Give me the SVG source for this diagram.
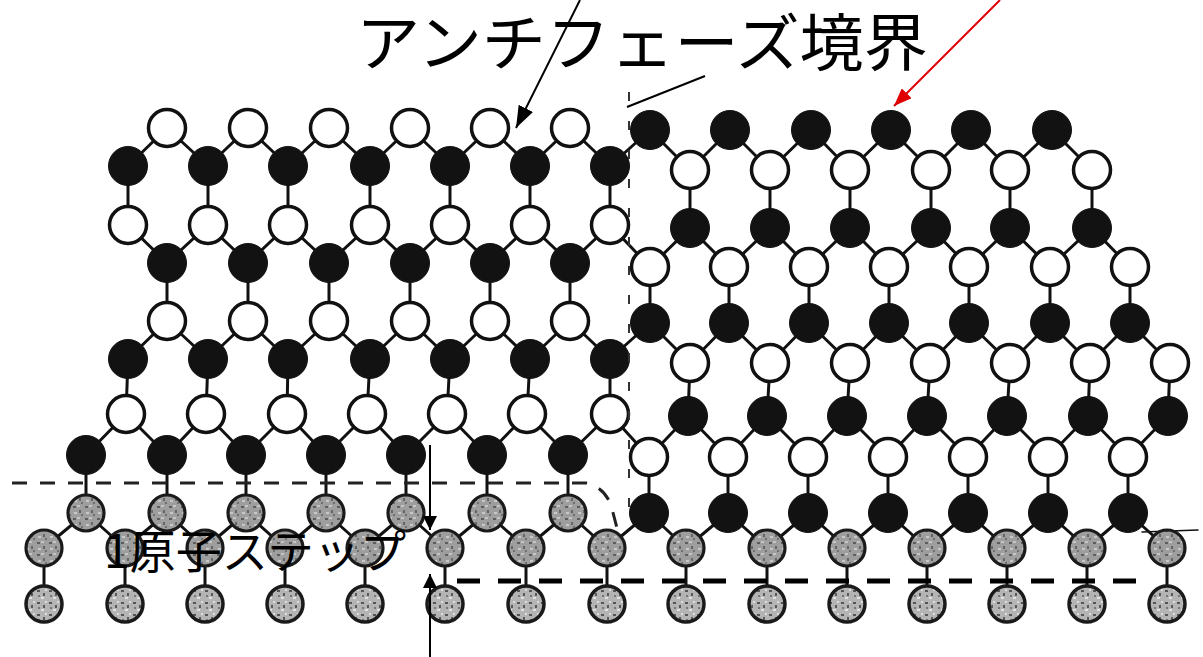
<svg xmlns="http://www.w3.org/2000/svg" width="1203" height="657" viewBox="0 0 1203 657">
  <style>
    .bond { stroke: #111; stroke-width: 3; fill: none; stroke-linecap: round; }
    .o { fill: #fff; stroke: #111; stroke-width: 3.5; }
    .f { fill: #121212; stroke: #121212; stroke-width: 1; }
    .g { fill: url(#grainA); stroke: #1a1a1a; stroke-width: 3.2; }
    .k { fill: url(#grainB); stroke: #1a1a1a; stroke-width: 3.5; }
    .lbl { font-family: "Noto Sans CJK JP", "Noto Sans", sans-serif; fill: #000; }
    .lead { stroke: #000; stroke-width: 2; fill: none; }
  </style>
  <defs>
    <pattern id="grainA" width="12" height="12" patternUnits="userSpaceOnUse">
      <rect width="12" height="12" fill="#9e9e9e"/>
      <rect x="1" y="2" width="3" height="2" fill="#5e5e5e"/>
      <rect x="7" y="6" width="2" height="3" fill="#666"/>
      <rect x="5" y="1" width="3" height="2" fill="#c4c4c4"/>
      <rect x="2" y="8" width="3" height="2" fill="#c8c8c8"/>
      <rect x="9" y="10" width="2" height="2" fill="#707070"/>
    </pattern>
    <pattern id="grainB" width="12" height="12" patternUnits="userSpaceOnUse">
      <rect width="12" height="12" fill="#b4b4b4"/>
      <rect x="1" y="2" width="3" height="2" fill="#555"/>
      <rect x="7" y="5" width="2" height="3" fill="#5a5a5a"/>
      <rect x="5" y="9" width="3" height="2" fill="#e0e0e0"/>
      <rect x="9" y="1" width="2" height="2" fill="#dcdcdc"/>
      <rect x="2" y="7" width="2" height="2" fill="#777"/>
    </pattern>
    <marker id="headBig" markerUnits="userSpaceOnUse" markerWidth="22" markerHeight="16" refX="22" refY="8" orient="auto">
      <path d="M0,0 L22,8 L0,16 z" fill="#000"/>
    </marker>
    <marker id="headSmall" markerUnits="userSpaceOnUse" markerWidth="14" markerHeight="14" refX="14" refY="7" orient="auto">
      <path d="M0,0 L14,7 L0,14 z" fill="#000"/>
    </marker>
    <marker id="headRed" markerUnits="userSpaceOnUse" markerWidth="18" markerHeight="14" refX="18" refY="7" orient="auto">
      <path d="M0,0 L18,7 L0,14 z" fill="#e00000"/>
    </marker>
  </defs>

  <rect width="1203" height="657" fill="#fff"/>

  <!-- bonds between neighbouring atoms -->
  <g id="bonds" class="bond">
    <!-- left domain -->
    <path d="M167,128 L128,166 M167,128 L208,166 M248,128 L208,166 M248,128 L288,166 M329,128 L288,166 M329,128 L370,166 M410,128 L370,166 M410,128 L450,166 M490,128 L450,166 M490,128 L530,166 M570,128 L530,166 M570,128 L610,166 M610,166 L650,130"/>
    <path d="M128,166 V225 M208,166 V225 M288,166 V225 M370,166 V225 M450,166 V225 M530,166 V225 M610,166 V225"/>
    <path d="M128,225 L167,263 M208,225 L167,263 M208,225 L248,263 M288,225 L248,263 M288,225 L329,263 M370,225 L329,263 M370,225 L410,263 M450,225 L410,263 M450,225 L490,263 M530,225 L490,263 M530,225 L570,263 M610,225 L570,263 M610,225 L650,267"/>
    <path d="M167,263 V321 M248,263 V321 M329,263 V321 M410,263 V321 M490,263 V321 M570,263 V321"/>
    <path d="M167,321 L128,359 M167,321 L208,359 M248,321 L208,359 M248,321 L288,359 M329,321 L288,359 M329,321 L370,359 M410,321 L370,359 M410,321 L450,359 M490,321 L450,359 M490,321 L530,359 M570,321 L530,359 M570,321 L610,359 M610,359 L650,323"/>
    <path d="M128,359 L126,414 M208,359 L206,414 M288,359 L287,414 M370,359 L367,414 M450,359 L447,414 M530,359 L527,414 M610,359 L610,414"/>
    <path d="M126,414 L86,455 M126,414 L167,455 M206,414 L167,455 M206,414 L246,455 M287,414 L246,455 M287,414 L326,455 M367,414 L326,455 M367,414 L406,455 M447,414 L406,455 M447,414 L487,455 M527,414 L487,455 M527,414 L568,455 M610,414 L568,455 M610,414 L649,457"/>
    <path d="M86,455 V513 M167,455 V513 M246,455 V513 M326,455 V513 M406,455 V513 M487,455 V513 M568,455 V513"/>
    <path d="M86,513 L44,548 M86,513 L125,548 M167,513 L125,548 M167,513 L205,548 M246,513 L205,548 M246,513 L285,548 M326,513 L285,548 M326,513 L365,548 M406,513 L365,548 M406,513 L445,548 M487,513 L445,548 M487,513 L526,548 M568,513 L526,548 M568,513 L607,548"/>
    <!-- right domain -->
    <path d="M650,130 L690,170 M730,130 L690,170 M730,130 L770,170 M811,130 L770,170 M811,130 L850,170 M891,130 L850,170 M891,130 L931,170 M971,130 L931,170 M971,130 L1010,170 M1052,130 L1010,170 M1052,130 L1092,170"/>
    <path d="M690,170 V228 M770,170 V228 M850,170 V228 M931,170 V228 M1010,170 V228 M1092,170 V228"/>
    <path d="M690,228 L650,267 M690,228 L729,267 M770,228 L729,267 M770,228 L809,267 M850,228 L809,267 M850,228 L889,267 M931,228 L889,267 M931,228 L969,267 M1010,228 L969,267 M1010,228 L1050,267 M1092,228 L1050,267 M1092,228 L1130,267"/>
    <path d="M650,267 V323 M729,267 V323 M809,267 V323 M889,267 V323 M969,267 V323 M1050,267 V323 M1130,267 V323"/>
    <path d="M650,323 L690,363 M729,323 L690,363 M729,323 L770,363 M809,323 L770,363 M809,323 L850,363 M889,323 L850,363 M889,323 L930,363 M969,323 L930,363 M969,323 L1010,363 M1050,323 L1010,363 M1050,323 L1090,363 M1130,323 L1090,363 M1130,323 L1170,363"/>
    <path d="M690,363 L688,416 M770,363 L767,416 M850,363 L847,416 M930,363 L927,416 M1010,363 L1007,416 M1090,363 L1088,416 M1170,363 L1168,416"/>
    <path d="M688,416 L649,457 M688,416 L728,457 M767,416 L728,457 M767,416 L808,457 M847,416 L808,457 M847,416 L888,457 M927,416 L888,457 M927,416 L968,457 M1007,416 L968,457 M1007,416 L1048,457 M1088,416 L1048,457 M1088,416 L1128,457 M1168,416 L1128,457"/>
    <path d="M649,457 V513 M728,457 V513 M808,457 V513 M888,457 V513 M968,457 V513 M1048,457 V513 M1128,457 V513"/>
    <path d="M649,513 L607,548 M649,513 L686,548 M728,513 L686,548 M728,513 L767,548 M808,513 L767,548 M808,513 L847,548 M888,513 L847,548 M888,513 L927,548 M968,513 L927,548 M968,513 L1007,548 M1048,513 L1007,548 M1048,513 L1087,548 M1128,513 L1087,548 M1128,513 L1167,548"/>
    <!-- substrate -->
    <path d="M44,548 V604 M125,548 V604 M205,548 V604 M285,548 V604 M365,548 V604 M445,548 V604 M526,548 V604 M607,548 V604 M686,548 V604 M767,548 V604 M847,548 V604 M927,548 V604 M1007,548 V604 M1087,548 V604 M1167,548 V604"/>
    <path d="M1142,532 L1198,530" stroke-width="1.5"/>
  </g>

  <!-- left domain atoms -->
  <g id="row-a">
    <circle class="o" cx="167" cy="128" r="18.5"/><circle class="o" cx="248" cy="128" r="18.5"/><circle class="o" cx="329" cy="128" r="18.5"/><circle class="o" cx="410" cy="128" r="18.5"/><circle class="o" cx="490" cy="128" r="18.5"/><circle class="o" cx="570" cy="128" r="18.5"/>
  </g>
  <g id="row-b">
    <circle class="f" cx="128" cy="166" r="19.5"/><circle class="f" cx="208" cy="166" r="19.5"/><circle class="f" cx="288" cy="166" r="19.5"/><circle class="f" cx="370" cy="166" r="19.5"/><circle class="f" cx="450" cy="166" r="19.5"/><circle class="f" cx="530" cy="166" r="19.5"/><circle class="f" cx="610" cy="166" r="19.5"/>
  </g>
  <g id="row-c">
    <circle class="o" cx="128" cy="225" r="18.5"/><circle class="o" cx="208" cy="225" r="18.5"/><circle class="o" cx="288" cy="225" r="18.5"/><circle class="o" cx="370" cy="225" r="18.5"/><circle class="o" cx="450" cy="225" r="18.5"/><circle class="o" cx="530" cy="225" r="18.5"/><circle class="o" cx="610" cy="225" r="18.5"/>
  </g>
  <g id="row-d">
    <circle class="f" cx="167" cy="263" r="19.5"/><circle class="f" cx="248" cy="263" r="19.5"/><circle class="f" cx="329" cy="263" r="19.5"/><circle class="f" cx="410" cy="263" r="19.5"/><circle class="f" cx="490" cy="263" r="19.5"/><circle class="f" cx="570" cy="263" r="19.5"/>
  </g>
  <g id="row-e">
    <circle class="o" cx="167" cy="321" r="18.5"/><circle class="o" cx="248" cy="321" r="18.5"/><circle class="o" cx="329" cy="321" r="18.5"/><circle class="o" cx="410" cy="321" r="18.5"/><circle class="o" cx="490" cy="321" r="18.5"/><circle class="o" cx="570" cy="321" r="18.5"/>
  </g>
  <g id="row-f">
    <circle class="f" cx="128" cy="359" r="19.5"/><circle class="f" cx="208" cy="359" r="19.5"/><circle class="f" cx="288" cy="359" r="19.5"/><circle class="f" cx="370" cy="359" r="19.5"/><circle class="f" cx="450" cy="359" r="19.5"/><circle class="f" cx="530" cy="359" r="19.5"/><circle class="f" cx="610" cy="359" r="19.5"/>
  </g>
  <g id="row-g">
    <circle class="o" cx="126" cy="414" r="18.5"/><circle class="o" cx="206" cy="414" r="18.5"/><circle class="o" cx="287" cy="414" r="18.5"/><circle class="o" cx="367" cy="414" r="18.5"/><circle class="o" cx="447" cy="414" r="18.5"/><circle class="o" cx="527" cy="414" r="18.5"/><circle class="o" cx="610" cy="414" r="18.5"/>
  </g>
  <g id="row-h">
    <circle class="f" cx="86" cy="455" r="19.5"/><circle class="f" cx="167" cy="455" r="19.5"/><circle class="f" cx="246" cy="455" r="19.5"/><circle class="f" cx="326" cy="455" r="19.5"/><circle class="f" cx="406" cy="455" r="19.5"/><circle class="f" cx="487" cy="455" r="19.5"/><circle class="f" cx="568" cy="455" r="19.5"/>
  </g>
  <g id="row-i">
    <circle class="g" cx="86" cy="513" r="18"/><circle class="g" cx="167" cy="513" r="18"/><circle class="g" cx="246" cy="513" r="18"/><circle class="g" cx="326" cy="513" r="18"/><circle class="g" cx="406" cy="513" r="18"/><circle class="g" cx="487" cy="513" r="18"/><circle class="g" cx="568" cy="513" r="18"/>
  </g>

  <!-- right domain atoms -->
  <g id="row-a2">
    <circle class="f" cx="650" cy="130" r="19.5"/><circle class="f" cx="730" cy="130" r="19.5"/><circle class="f" cx="811" cy="130" r="19.5"/><circle class="f" cx="891" cy="130" r="19.5"/><circle class="f" cx="971" cy="130" r="19.5"/><circle class="f" cx="1052" cy="130" r="19.5"/>
  </g>
  <g id="row-b2">
    <circle class="o" cx="690" cy="170" r="18.5"/><circle class="o" cx="770" cy="170" r="18.5"/><circle class="o" cx="850" cy="170" r="18.5"/><circle class="o" cx="931" cy="170" r="18.5"/><circle class="o" cx="1010" cy="170" r="18.5"/><circle class="o" cx="1092" cy="170" r="18.5"/>
  </g>
  <g id="row-c2">
    <circle class="f" cx="690" cy="228" r="19.5"/><circle class="f" cx="770" cy="228" r="19.5"/><circle class="f" cx="850" cy="228" r="19.5"/><circle class="f" cx="931" cy="228" r="19.5"/><circle class="f" cx="1010" cy="228" r="19.5"/><circle class="f" cx="1092" cy="228" r="19.5"/>
  </g>
  <g id="row-d2">
    <circle class="o" cx="650" cy="267" r="18.5"/><circle class="o" cx="729" cy="267" r="18.5"/><circle class="o" cx="809" cy="267" r="18.5"/><circle class="o" cx="889" cy="267" r="18.5"/><circle class="o" cx="969" cy="267" r="18.5"/><circle class="o" cx="1050" cy="267" r="18.5"/><circle class="o" cx="1130" cy="267" r="18.5"/>
  </g>
  <g id="row-e2">
    <circle class="f" cx="650" cy="323" r="19.5"/><circle class="f" cx="729" cy="323" r="19.5"/><circle class="f" cx="809" cy="323" r="19.5"/><circle class="f" cx="889" cy="323" r="19.5"/><circle class="f" cx="969" cy="323" r="19.5"/><circle class="f" cx="1050" cy="323" r="19.5"/><circle class="f" cx="1130" cy="323" r="19.5"/>
  </g>
  <g id="row-f2">
    <circle class="o" cx="690" cy="363" r="18.5"/><circle class="o" cx="770" cy="363" r="18.5"/><circle class="o" cx="850" cy="363" r="18.5"/><circle class="o" cx="930" cy="363" r="18.5"/><circle class="o" cx="1010" cy="363" r="18.5"/><circle class="o" cx="1090" cy="363" r="18.5"/><circle class="o" cx="1170" cy="363" r="18.5"/>
  </g>
  <g id="row-g2">
    <circle class="f" cx="688" cy="416" r="19.5"/><circle class="f" cx="767" cy="416" r="19.5"/><circle class="f" cx="847" cy="416" r="19.5"/><circle class="f" cx="927" cy="416" r="19.5"/><circle class="f" cx="1007" cy="416" r="19.5"/><circle class="f" cx="1088" cy="416" r="19.5"/><circle class="f" cx="1168" cy="416" r="19.5"/>
  </g>
  <g id="row-h2">
    <circle class="o" cx="649" cy="457" r="18.5"/><circle class="o" cx="728" cy="457" r="18.5"/><circle class="o" cx="808" cy="457" r="18.5"/><circle class="o" cx="888" cy="457" r="18.5"/><circle class="o" cx="968" cy="457" r="18.5"/><circle class="o" cx="1048" cy="457" r="18.5"/><circle class="o" cx="1128" cy="457" r="18.5"/>
  </g>
  <g id="row-i2">
    <circle class="f" cx="649" cy="513" r="19.5"/><circle class="f" cx="728" cy="513" r="19.5"/><circle class="f" cx="808" cy="513" r="19.5"/><circle class="f" cx="888" cy="513" r="19.5"/><circle class="f" cx="968" cy="513" r="19.5"/><circle class="f" cx="1048" cy="513" r="19.5"/><circle class="f" cx="1128" cy="513" r="19.5"/>
  </g>

  <!-- substrate atoms -->
  <g id="row-j">
    <circle class="g" cx="44" cy="548" r="18"/><circle class="g" cx="125" cy="548" r="18"/><circle class="g" cx="205" cy="548" r="18"/><circle class="g" cx="285" cy="548" r="18"/><circle class="g" cx="365" cy="548" r="18"/><circle class="g" cx="445" cy="548" r="18"/><circle class="g" cx="526" cy="548" r="18"/><circle class="g" cx="607" cy="548" r="18"/><circle class="g" cx="686" cy="548" r="18"/><circle class="g" cx="767" cy="548" r="18"/><circle class="g" cx="847" cy="548" r="18"/><circle class="g" cx="927" cy="548" r="18"/><circle class="g" cx="1007" cy="548" r="18"/><circle class="g" cx="1087" cy="548" r="18"/><circle class="g" cx="1167" cy="548" r="18"/>
  </g>
  <g id="row-k">
    <circle class="k" cx="44" cy="604" r="18"/><circle class="k" cx="125" cy="604" r="18"/><circle class="k" cx="205" cy="604" r="18"/><circle class="k" cx="285" cy="604" r="18"/><circle class="k" cx="365" cy="604" r="18"/><circle class="k" cx="445" cy="604" r="18"/><circle class="k" cx="526" cy="604" r="18"/><circle class="k" cx="607" cy="604" r="18"/><circle class="k" cx="686" cy="604" r="18"/><circle class="k" cx="767" cy="604" r="18"/><circle class="k" cx="847" cy="604" r="18"/><circle class="k" cx="927" cy="604" r="18"/><circle class="k" cx="1007" cy="604" r="18"/><circle class="k" cx="1087" cy="604" r="18"/><circle class="k" cx="1167" cy="604" r="18"/>
  </g>

  <!-- domain boundary and terrace edges -->
  <g id="guides" fill="none">
    <path d="M629,92 V522" stroke="#333" stroke-width="2" stroke-dasharray="9 20"/>
    <path d="M12,483 H586 Q604,487 611,505 L617,528" stroke="#222" stroke-width="3" stroke-dasharray="15 13"/>
    <path d="M457,581 H1140" stroke="#000" stroke-width="5" stroke-dasharray="23 18"/>
  </g>

  <!-- annotations -->
  <g id="annotations">
    <line class="lead" x1="580" y1="0" x2="516" y2="128" marker-end="url(#headBig)"/>
    <line class="lead" x1="705" y1="76" x2="627" y2="107"/>
    <line x1="1000" y1="0" x2="894" y2="106" stroke="#e00000" stroke-width="2" marker-end="url(#headRed)"/>
    <line class="lead" x1="430" y1="445" x2="430" y2="530" marker-end="url(#headSmall)"/>
    <line class="lead" x1="430" y1="657" x2="430" y2="574" marker-end="url(#headSmall)"/>
    <text class="lbl" x="356" y="66" font-size="62" textLength="572" lengthAdjust="spacingAndGlyphs">アンチフェーズ境界</text>
    <text class="lbl" x="104" y="568" font-size="46" textLength="302" lengthAdjust="spacingAndGlyphs">1原子ステップ</text>
  </g>
</svg>
